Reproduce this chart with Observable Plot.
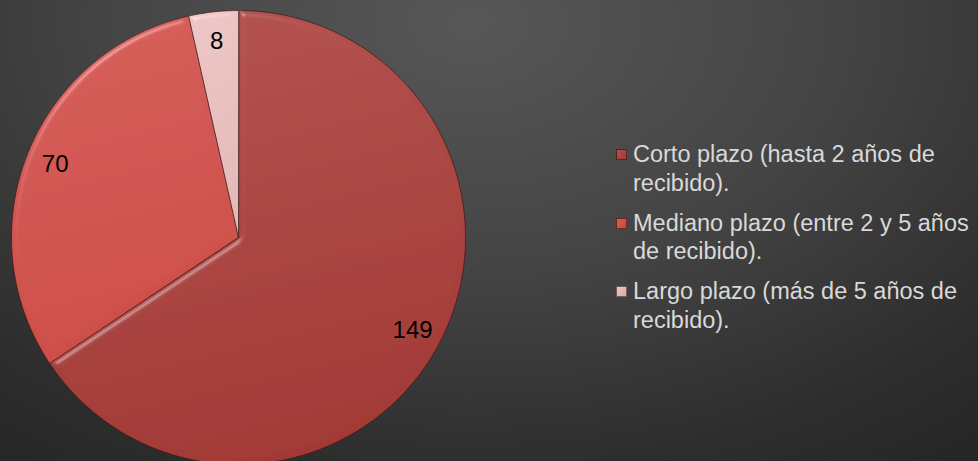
<!DOCTYPE html>
<html>
<head>
<meta charset="utf-8">
<script src="https://cdn.jsdelivr.net/npm/d3@7"></script>
<script src="https://cdn.jsdelivr.net/npm/@observablehq/plot@0.6"></script>
<style>
  html, body { margin: 0; padding: 0; }
  body {
    width: 978px; height: 461px; overflow: hidden;
    background: radial-gradient(ellipse 85% 120% at 48% 5%, #575757 0%, #444444 45%, #2e2e2e 80%, #252525 100%);
    font-family: "Liberation Sans", Arial, sans-serif;
  }
  #wrap { position: relative; width: 978px; height: 461px; }
  #chart { position: absolute; left: 0; top: 0; }
  #legend { position: absolute; left: 616px; top: 140px; width: 362px; }
  .item { display: flex; align-items: flex-start; margin-bottom: 11.5px; }
  .sw { width: 11px; height: 11px; margin-top: 9px; margin-right: 6px; flex: none;
        border: 0.5px solid rgba(0,0,0,0.5); box-sizing: border-box; }
  .lab { color: #d9d9d9; font-size: 23.5px; line-height: 28.5px; width: 345px;
         font-family: "Liberation Sans", Arial, sans-serif; }
</style>
</head>
<body>
<div id="wrap">
  <div id="chart"></div>
  <div id="legend"></div>
</div>
<script>
// ---- data ----
const categories = [
  "Corto plazo (hasta 2 años de recibido).",
  "Mediano plazo (entre 2 y 5 años de recibido).",
  "Largo plazo (más de 5 años de recibido)."
];
const values = [149, 70, 8];

// ---- styling ----
const gradIds = ["g0", "g1", "g2"];
const gradStops = [
  ["#b3524f", "#a23935"],
  ["#d65e59", "#c9463f"],
  ["#eec6c6", "#d9a9a9"]
];

// ---- geometry from data ----
const arcs = d3.pie().sort(null).value(d => d)(values);
const wedgePts = [];
arcs.forEach((a, i) => {
  const key = categories[i];
  wedgePts.push({key, x: 0, y: 0});
  const n = Math.max(4, Math.ceil((a.endAngle - a.startAngle) / (Math.PI / 360)));
  for (let k = 0; k <= n; k++) {
    const t = a.startAngle + (a.endAngle - a.startAngle) * k / n;
    wedgePts.push({key, x: Math.sin(t), y: Math.cos(t)});
  }
});
const labels = arcs.map((a, i) => {
  const m = (a.startAngle + a.endAngle) / 2;
  return {text: String(values[i]), x: 0.87 * Math.sin(m), y: 0.87 * Math.cos(m)};
});

const cx = 238, cy = 237, R = 227;
const plot = Plot.plot({
  width: 600,
  height: 461,
  margin: 0,
  style: {background: "transparent", overflow: "visible"},
  x: {domain: [-1, 1], range: [cx - R, cx + R], axis: null},
  y: {domain: [-1, 1], range: [cy + R, cy - R], axis: null},
  color: {type: "ordinal", domain: categories, range: gradIds.map(g => `url(#${g})`)},
  marks: [
    Plot.line(wedgePts, {
      x: "x", y: "y", z: "key", fill: "key",
      stroke: "#3e1716", strokeWidth: 0.9, strokeOpacity: 0.8,
      curve: "linear-closed"
    }),
    Plot.text(labels, {
      x: "x", y: "y", text: "text",
      fill: "#000", fontSize: 24, fontFamily: "Liberation Sans, Arial, sans-serif"
    })
  ]
});

// gradients + bevel filter
const svg = d3.select(plot);
const defs = svg.insert("defs", ":first-child");
gradIds.forEach((id, i) => {
  const g = defs.append("linearGradient").attr("id", id)
    .attr("gradientUnits", "userSpaceOnUse")
    .attr("x1", cx - R * 0.3).attr("y1", cy - R).attr("x2", cx + R * 0.2).attr("y2", cy + R);
  g.append("stop").attr("offset", "0%").attr("stop-color", gradStops[i][0]);
  g.append("stop").attr("offset", "100%").attr("stop-color", gradStops[i][1]);
});
const f = defs.append("filter").attr("id", "bevel")
  .attr("x", "-5%").attr("y", "-5%").attr("width", "110%").attr("height", "110%");
f.append("feGaussianBlur").attr("in", "SourceAlpha").attr("stdDeviation", 3).attr("result", "blur");
const sp = f.append("feSpecularLighting").attr("in", "blur").attr("surfaceScale", 4)
  .attr("specularConstant", 0.35).attr("specularExponent", 45)
  .attr("lighting-color", "#ffffff").attr("result", "spec");
sp.append("feDistantLight").attr("azimuth", 235).attr("elevation", 40);
f.append("feComposite").attr("in", "spec").attr("in2", "SourceAlpha").attr("operator", "in").attr("result", "specIn");
f.append("feComposite").attr("in", "SourceGraphic").attr("in2", "specIn")
  .attr("operator", "arithmetic").attr("k1", 0).attr("k2", 1).attr("k3", 0.6).attr("k4", 0);
svg.selectAll("g[aria-label='line'] path").attr("filter", "url(#bevel)");

document.getElementById("chart").appendChild(plot);

// legend
const legend = d3.select("#legend");
categories.forEach((c, i) => {
  const it = legend.append("div").attr("class", "item");
  it.append("div").attr("class", "sw")
    .style("background", `linear-gradient(135deg, ${gradStops[i][0]}, ${gradStops[i][1]})`);
  it.append("div").attr("class", "lab").text(c);
});
</script>
</body>
</html>
